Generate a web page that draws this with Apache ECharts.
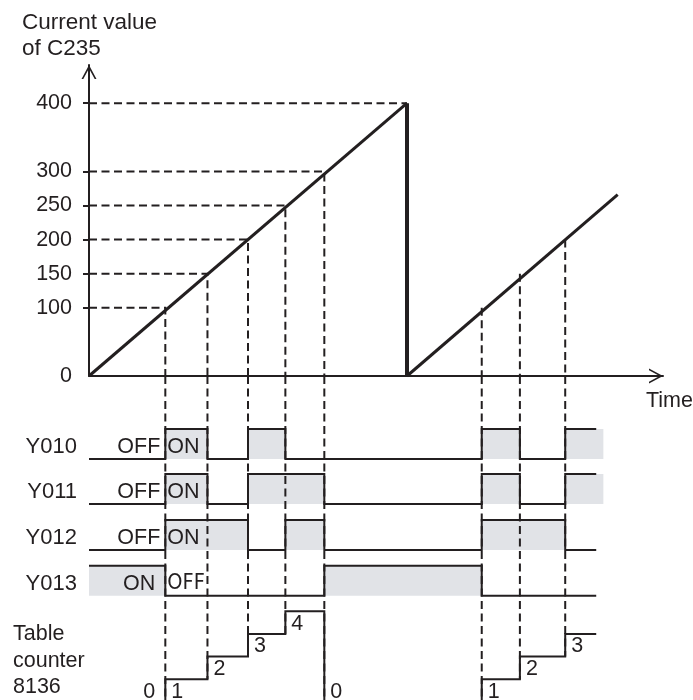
<!DOCTYPE html>
<html>
<head>
<meta charset="utf-8">
<title>C235 table counter</title>
<script src="https://cdn.jsdelivr.net/npm/echarts@6/dist/echarts.min.js"></script>
<style>
  html, body { margin: 0; padding: 0; background: #fff; }
  #chart { width: 693px; height: 700px; }
</style>
</head>
<body>
<div id="chart"></div>
<script>
  // current value of C235
  const yTicks = [100, 150, 200, 250, 300, 400];
  const yLabels = [0, 100, 150, 200, 250, 300, 400];
  const rampA = [[0, 0], [400, 400]];
  const resetLine = [[400, 400], [400, 0]];
  const rampB = [[400, 0], [665, 266]];

  // moments where the current value reaches a table entry
  const hitTimes = [96, 149, 200, 247, 296, 494, 542, 599];
  const hitValues = [100, 150, 200, 250, 300, 100, 150, 200];
  const lineEnd = 638;
  const shadeEnd = 647;

  // output states per interval (before first hit, after each hit)
  const signalNames = ['Y010', 'Y011', 'Y012', 'Y013'];
  const y010 = [0, 1, 0, 1, 0, 0, 1, 0, 1];
  const y011 = [0, 1, 0, 1, 1, 0, 1, 0, 1];
  const y012 = [0, 1, 1, 0, 1, 0, 1, 1, 0];
  const y013 = [1, 0, 0, 0, 0, 1, 0, 0, 0];
  const counter = [0, 1, 2, 3, 4, 0, 1, 2, 3];

  const ink = '#231f20';
  const shade = '#e1e3e7';
  const font = "'Liberation Sans', Arial, sans-serif";
  const narrowFont = "'Liberation Sans Narrow', 'DejaVu Sans Condensed', 'Liberation Sans', sans-serif";
  const fs = 21.5;

  // lower panel layout (hidden y axis in row units)
  const lowMax = 7.18;
  const rowBase = [5.35, 4.36, 3.35, 2.34];
  const rowAmp = 0.66;
  const stepH = 0.5;
  const resetTime = resetLine[0][0];

  const states = [y010, y011, y012, y013];

  function signalPath (s, k) {
    const y = v => rowBase[k] + v * rowAmp;
    const pts = [[0, y(s[0])]];
    for (let i = 1; i < s.length; i++) {
      if (s[i] !== s[i - 1]) {
        pts.push([hitTimes[i - 1], y(s[i - 1])], [hitTimes[i - 1], y(s[i])]);
      }
    }
    pts.push([lineEnd, y(s[s.length - 1])]);
    return pts;
  }

  function shadeRects (s, k) {
    const out = [];
    let start = null;
    for (let i = 0; i < s.length; i++) {
      const t0 = i === 0 ? 0 : hitTimes[i - 1];
      if (s[i] === 1 && start === null) start = t0;
      if (s[i] === 0 && start !== null) {
        out.push([start, t0, rowBase[k], rowBase[k] + rowAmp]);
        start = null;
      }
    }
    if (start !== null) out.push([start, shadeEnd, rowBase[k], rowBase[k] + rowAmp]);
    return out;
  }

  const counterPts = [[0, counter[0] * stepH]];
  for (let i = 1; i < counter.length; i++) {
    counterPts.push([hitTimes[i - 1], counter[i - 1] * stepH], [hitTimes[i - 1], counter[i] * stepH]);
  }
  counterPts.push([lineEnd, counter[counter.length - 1] * stepH]);

  const topDash = hitTimes.map(function (t, i) {
    if (t < resetTime) return {coords: [[0, hitValues[i]], [t, hitValues[i]], [t, 0]]};
    return {coords: [[t, hitValues[i]], [t, 0]]};
  });
  topDash.push({coords: [[0, rampA[1][1]], resetLine[0]]});

  const lowDash = hitTimes.map(function (t, i) {
    return {coords: [[t, lowMax], [t, Math.min(counter[i], counter[i + 1]) * stepH]]};
  });

  let shadeData = [];
  states.forEach(function (s, k) { shadeData = shadeData.concat(shadeRects(s, k)); });

  // text marks anchored on the lower panel
  const labels = [];
  const txt = function (value, text, position, distance, offset, family, size) {
    labels.push({
      value: value,
      label: {show: true, formatter: text, position: position, distance: distance, offset: offset,
        fontSize: size || fs, color: ink, opacity: 1, fontFamily: family || font}
    });
  };
  states.forEach(function (s, k) {
    txt([0, rowBase[k]], signalNames[k], 'left', 12, [0, -12], font, 22);
    const before = s[0] ? 'ON' : 'OFF';
    const after = s[1] ? 'ON' : 'OFF';
    txt([hitTimes[0], rowBase[k]], before, 'left', s[0] ? 10 : 5, [0, -12]);
    txt([hitTimes[0], rowBase[k]], after, 'right', 2, [0, -12], s[1] ? font : narrowFont);
  });
  txt([hitTimes[0], stepH], String(counter[0]), 'left', 10, [0, 12.5]);
  hitTimes.forEach(function (t, i) {
    const c = counter[i + 1];
    txt([t, Math.max(c, 1) * stepH], String(c), 'right', 6, [0, 12.5]);
  });

  const chevron = 'path://M0,14 L7.5,0 L15,14 L13.2,14 L7.5,3.4 L1.8,14 Z';

  const chart = echarts.init(document.getElementById('chart'));
  chart.setOption({
    animation: false,
    backgroundColor: '#fff',
    textStyle: {fontFamily: font, color: ink},
    title: [
      {text: 'Current value\nof C235', left: 22, top: 10, padding: 0,
        textStyle: {fontSize: 22.5, lineHeight: 26, fontWeight: 'normal', color: ink, fontFamily: font}},
      {text: 'Time', left: 646, top: 388, padding: 0,
        textStyle: {fontSize: fs, lineHeight: 26, fontWeight: 'normal', color: ink, fontFamily: font}},
      {text: 'Table\ncounter\n8136', left: 13, top: 621, padding: 0,
        textStyle: {fontSize: fs, lineHeight: 26.5, fontWeight: 'normal', color: ink, fontFamily: font}}
    ],
    grid: [
      {left: 89, top: 65, width: 574, height: 311, outerBoundsMode: 'none'},
      {left: 89, top: 376, width: 574, height: 326, outerBoundsMode: 'none'}
    ],
    xAxis: [
      {
        gridIndex: 0, type: 'value', min: 0, max: 722,
        axisLine: {show: true, symbol: ['none', chevron], symbolSize: [15, 14], symbolOffset: [0, -7],
          lineStyle: {color: ink, width: 2}},
        axisTick: {show: false}, axisLabel: {show: false}, splitLine: {show: false}
      },
      {gridIndex: 1, type: 'value', min: 0, max: 722, show: false}
    ],
    yAxis: [
      {
        gridIndex: 0, type: 'value', min: 0, max: 456,
        axisLine: {show: true, symbol: ['none', chevron], symbolSize: [15, 14], symbolOffset: [0, -7],
          lineStyle: {color: ink, width: 2}},
        axisTick: {show: true, length: 6, customValues: yTicks, lineStyle: {color: ink, width: 2}},
        axisLabel: {customValues: yLabels, margin: 17, fontSize: fs, color: ink, fontFamily: font},
        splitLine: {show: false}
      },
      {gridIndex: 1, type: 'value', min: 0, max: lowMax, show: false}
    ],
    series: [
      {
        type: 'custom', xAxisIndex: 1, yAxisIndex: 1, z: 1,
        encode: {x: [0, 1], y: [2, 3]},
        data: shadeData,
        renderItem: function (params, api) {
          const p0 = api.coord([api.value(0), api.value(3)]);
          const p1 = api.coord([api.value(1), api.value(2)]);
          return {type: 'rect', shape: {x: p0[0], y: p0[1], width: p1[0] - p0[0], height: p1[1] - p0[1]},
            style: {fill: shade}};
        }
      },
      {
        type: 'lines', coordinateSystem: 'cartesian2d', xAxisIndex: 0, yAxisIndex: 0, z: 2,
        polyline: true, data: topDash,
        lineStyle: {color: ink, width: 2, type: [8, 4.5], opacity: 1}
      },
      {
        type: 'lines', coordinateSystem: 'cartesian2d', xAxisIndex: 1, yAxisIndex: 1, z: 2,
        polyline: true, data: lowDash,
        lineStyle: {color: ink, width: 2, type: [8, 4.5], opacity: 1}
      },
      {
        type: 'lines', coordinateSystem: 'cartesian2d', xAxisIndex: 0, yAxisIndex: 0, z: 3,
        polyline: true, data: [{coords: rampA}, {coords: rampB}],
        lineStyle: {color: ink, width: 3, opacity: 1}
      },
      {
        type: 'lines', coordinateSystem: 'cartesian2d', xAxisIndex: 0, yAxisIndex: 0, z: 3,
        polyline: true, data: [{coords: resetLine}],
        lineStyle: {color: ink, width: 4, opacity: 1}
      },
      {
        type: 'lines', coordinateSystem: 'cartesian2d', xAxisIndex: 1, yAxisIndex: 1, z: 3,
        polyline: true,
        data: states.map(function (s, k) { return {coords: signalPath(s, k)}; }).concat([{coords: counterPts}]),
        lineStyle: {color: ink, width: 2, opacity: 1}
      },
      {
        type: 'scatter', xAxisIndex: 1, yAxisIndex: 1, z: 4,
        symbolSize: 0, itemStyle: {color: 'rgba(0,0,0,0)', opacity: 1},
        data: labels
      }
    ]
  });
</script>
</body>
</html>
